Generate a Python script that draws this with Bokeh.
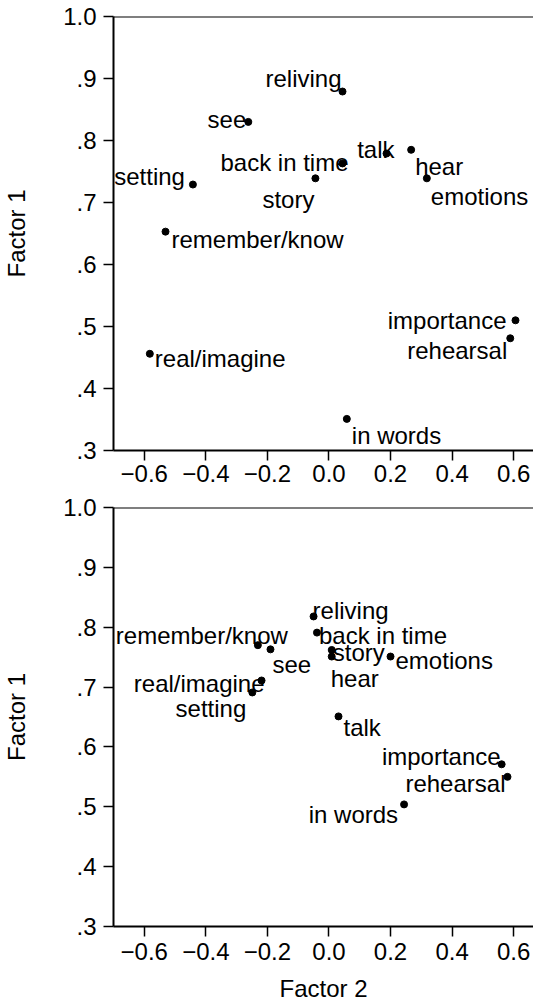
from bokeh.plotting import figure
from bokeh.models import ColumnDataSource, FixedTicker, CustomJSTickFormatter, Span, Range1d
from bokeh.layouts import column
from bokeh.core.properties import field, value
from bokeh.embed import file_html
from bokeh.resources import INLINE

FONT = "Liberation Sans"

names = ["reliving", "see", "back in time", "talk", "hear", "emotions", "setting",
         "story", "remember/know", "importance", "rehearsal", "real/imagine", "in words"]

# top panel values
top_f2 = [0.044, -0.262, 0.044, 0.187, 0.267, 0.318, -0.442, -0.044, -0.531, 0.606, 0.589, -0.582, 0.058]
top_f1 = [0.879, 0.830, 0.763, 0.779, 0.785, 0.739, 0.729, 0.739, 0.653, 0.510, 0.481, 0.456, 0.351]

# bottom panel values
bot_f2 = [-0.050, -0.190, -0.039, 0.031, 0.009, 0.200, -0.249, 0.009, -0.231, 0.561, 0.580, -0.219, 0.244]
bot_f1 = [0.818, 0.763, 0.791, 0.651, 0.751, 0.751, 0.691, 0.762, 0.770, 0.571, 0.550, 0.711, 0.504]

x_ticks = [-0.6, -0.4, -0.2, 0.0, 0.2, 0.4, 0.6]
y_ticks = [0.3, 0.4, 0.5, 0.6, 0.7, 0.8, 0.9, 1.0]

# label placement (annotation layout only)
top_align = ["right", "right", "right", "right", "left", "left", "right",
             "right", "left", "right", "right", "left", "left"]
top_dx = [-1, -2, 6, 8, 4, 4, -8, -1, 6, -9, -3, 5, 5]
top_dy = [-13, -2, -1, -4, 17, 18, -8, 21, 8, 0, 12, 5, 17]

bot_align = ["left", "left", "left", "left", "left", "left", "right",
             "left", "right", "right", "right", "right", "right"]
bot_dx = [-1, 2, 2, 5, -1, 5, -6, 1, 30, -1, -2, 3, -6]
bot_dy = [-6, 15, 3, 11, 22, 4, 16, 3, -10, -8, 7, 3, 10]

FS = "24px"


def make_panel(xs, ys, align, dx, dy, height, top_border, bottom_border, xlabel, tick_standoff):
    p = figure(width=533, height=height, output_backend="svg", toolbar_location=None,
               x_range=Range1d(-0.7, 0.6645), y_range=Range1d(0.3, 1.0),
               min_border_left=108, min_border_right=0,
               min_border_top=top_border, min_border_bottom=bottom_border)
    p.outline_line_color = None
    p.xgrid.visible = False
    p.ygrid.visible = False
    p.background_fill_color = "white"
    p.border_fill_color = "white"

    src = ColumnDataSource(dict(x=xs, y=ys, name=names, align=align, dx=dx, dy=dy))
    p.scatter("x", "y", source=src, size=7, color="black")
    p.text(x="x", y="y", text="name", source=src, text_align=field("align"),
           text_baseline="alphabetic", x_offset=field("dx"), y_offset=field("dy"),
           text_font=value(FONT), text_font_size=FS, text_color="black")

    p.add_layout(Span(location=1.0, dimension="width", line_color="black", line_width=2))

    for ax in (p.xaxis[0], p.yaxis[0]):
        ax.axis_line_width = 2
        ax.axis_line_color = "black"
        ax.major_tick_line_width = 1.5
        ax.major_tick_line_color = "black"
        ax.major_tick_out = 10
        ax.major_tick_in = 0
        ax.minor_tick_line_color = None
        ax.major_label_text_font = FONT
        ax.major_label_text_font_size = FS
        ax.major_label_text_color = "black"
        ax.axis_label_text_font = FONT
        ax.axis_label_text_font_size = FS
        ax.axis_label_text_font_style = "normal"
        ax.axis_label_text_color = "black"

    p.xaxis.ticker = FixedTicker(ticks=x_ticks)
    p.xaxis.formatter = CustomJSTickFormatter(
        code="return tick.toFixed(1).replace('-', '\\u2212');")
    p.xaxis.major_label_standoff = tick_standoff
    if xlabel:
        p.xaxis.axis_label = xlabel
        p.xaxis.axis_label_standoff = 12

    p.yaxis.ticker = FixedTicker(ticks=y_ticks)
    p.yaxis.formatter = CustomJSTickFormatter(
        code="var s = tick.toFixed(1); return tick > 0.999 ? s : s.replace(/^0/, '');")
    p.yaxis.major_label_standoff = 7
    p.yaxis.axis_label = "Factor 1"
    p.yaxis.axis_label_standoff = 30
    return p


p1 = make_panel(top_f2, top_f1, top_align, top_dx, top_dy, 493, 16, 43, None, 4)
p2 = make_panel(bot_f2, bot_f1, bot_align, bot_dx, bot_dy, 511, 14, 74, "Factor 2", 6)

layout = column(p1, p2)
open("out.html", "w").write(file_html(layout, INLINE))
